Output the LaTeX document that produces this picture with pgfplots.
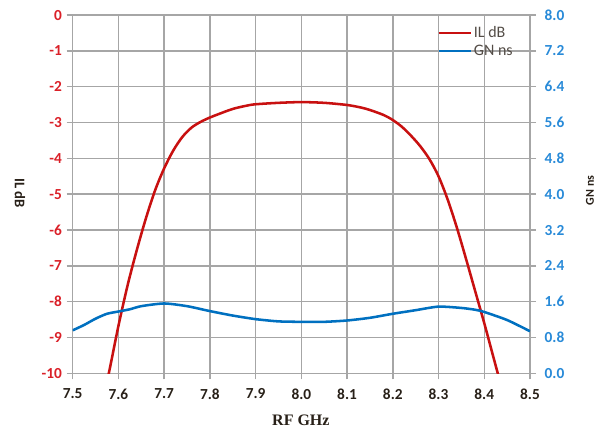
\documentclass[border=0pt]{standalone}
\usepackage{fontspec}
\setmainfont{Carlito}
\newfontfamily\serifbold{Liberation Serif}
\usepackage{pgfplots}
\pgfplotsset{compat=1.18}
\definecolor{ilred}{RGB}{200,16,16}
\definecolor{gnblue}{RGB}{0,112,192}
\definecolor{lred}{RGB}{218,32,40}
\definecolor{lblue}{RGB}{40,138,216}
\definecolor{gridgray}{RGB}{166,166,166}
\definecolor{txtdark}{RGB}{40,32,24}
\begin{document}
\begin{tikzpicture}
\pgfplotsset{
  common/.style={
    scale only axis, width=343pt, height=268.7pt,
    xmin=7.5, xmax=8.5,
    xtick={7.5,7.6,7.7,7.8,7.9,8.0,8.1,8.2,8.3,8.4,8.5},
    /pgf/number format/assume math mode=true,
    tick align=outside, major tick length=4.5pt,
    tick style={gridgray, line width=1.1pt},
    axis line style={gridgray, line width=1.1pt},
    ticklabel style={font=\fontsize{11.5}{13}\selectfont\bfseries},
  }
}
\begin{axis}[common,
  ymin=-10, ymax=0, ytick={-10,-9,-8,-7,-6,-5,-4,-3,-2,-1,0},
  xtick pos=bottom, ytick pos=left,
  grid=major, major grid style={gridgray, line width=1.1pt},
  xticklabel style={txtdark, /pgf/number format/fixed, /pgf/number format/fixed zerofill, /pgf/number format/precision=1, yshift=-3.5pt},
  yticklabel style={lred},
  xlabel={\serifbold\fontsize{12}{14}\selectfont\bfseries RF GHz},
  xlabel style={at={(axis description cs:0.499,-0.130)}, anchor=center, txtdark},
  ylabel={\fontsize{11}{13}\selectfont\bfseries IL dB},
  ylabel style={at={(axis description cs:-0.115,0.503)}, anchor=center, rotate=180, txtdark},
]
\addplot[ilred, line width=1.9pt, smooth, tension=0.5] coordinates {
(7.56,-11.1) (7.58,-9.94) (7.60,-8.68) (7.62,-7.55) (7.64,-6.57) (7.66,-5.68)
(7.68,-4.90) (7.70,-4.28) (7.72,-3.78) (7.74,-3.40) (7.76,-3.14) (7.78,-2.98)
(7.80,-2.86) (7.82,-2.76) (7.85,-2.62) (7.88,-2.53) (7.90,-2.49) (7.95,-2.45)
(8.00,-2.43) (8.05,-2.45) (8.10,-2.51) (8.13,-2.58) (8.15,-2.65) (8.18,-2.79)
(8.20,-2.93) (8.22,-3.12) (8.24,-3.37) (8.26,-3.66) (8.28,-4.02) (8.30,-4.50)
(8.32,-5.15) (8.34,-5.93) (8.36,-6.80) (8.38,-7.70) (8.40,-8.60) (8.42,-9.55)
(8.44,-10.5) (8.46,-11.5)
};
\end{axis}
\begin{axis}[common,
  ymin=0, ymax=8, ytick={0,0.8,1.6,2.4,3.2,4.0,4.8,5.6,6.4,7.2,8.0},
  hide x axis, axis y line*=right,
  yticklabel style={lblue, xshift=3pt, /pgf/number format/fixed, /pgf/number format/fixed zerofill, /pgf/number format/precision=1},
  ylabel={\fontsize{9}{11}\selectfont\bfseries GN ns},
  ylabel style={at={(axis description cs:1.131,0.511)}, anchor=center, rotate=0, txtdark},
  legend style={at={(axis description cs:0.797,0.975)}, anchor=north west, draw=none, fill=none,
    inner sep=0pt, font=\fontsize{12}{14}\selectfont, text=txtdark!80!white, row sep=1pt,
    nodes={inner sep=1.5pt}},
  legend cell align=left,
  legend image code/.code={\draw[#1] (0pt,0pt) -- (24pt,0pt);},
]
\addlegendimage{ilred, line width=1.9pt}
\addlegendentry{IL dB}
\addplot[gnblue, line width=1.9pt, smooth, tension=0.4] coordinates {
(7.500,0.96) (7.525,1.08) (7.550,1.22) (7.575,1.33) (7.600,1.38) (7.625,1.43)
(7.650,1.50) (7.700,1.56) (7.750,1.50) (7.800,1.39) (7.850,1.29) (7.900,1.21)
(7.950,1.16) (8.000,1.15) (8.050,1.15) (8.100,1.18) (8.150,1.24) (8.200,1.33)
(8.250,1.41) (8.300,1.49) (8.350,1.46) (8.380,1.42) (8.400,1.37) (8.450,1.19)
(8.500,0.94)
};
\addlegendentry{GN ns}
\end{axis}
\pgfresetboundingbox
\path (-54.5pt,-41pt) rectangle (397.75pt,280pt);
\end{tikzpicture}
\end{document}
